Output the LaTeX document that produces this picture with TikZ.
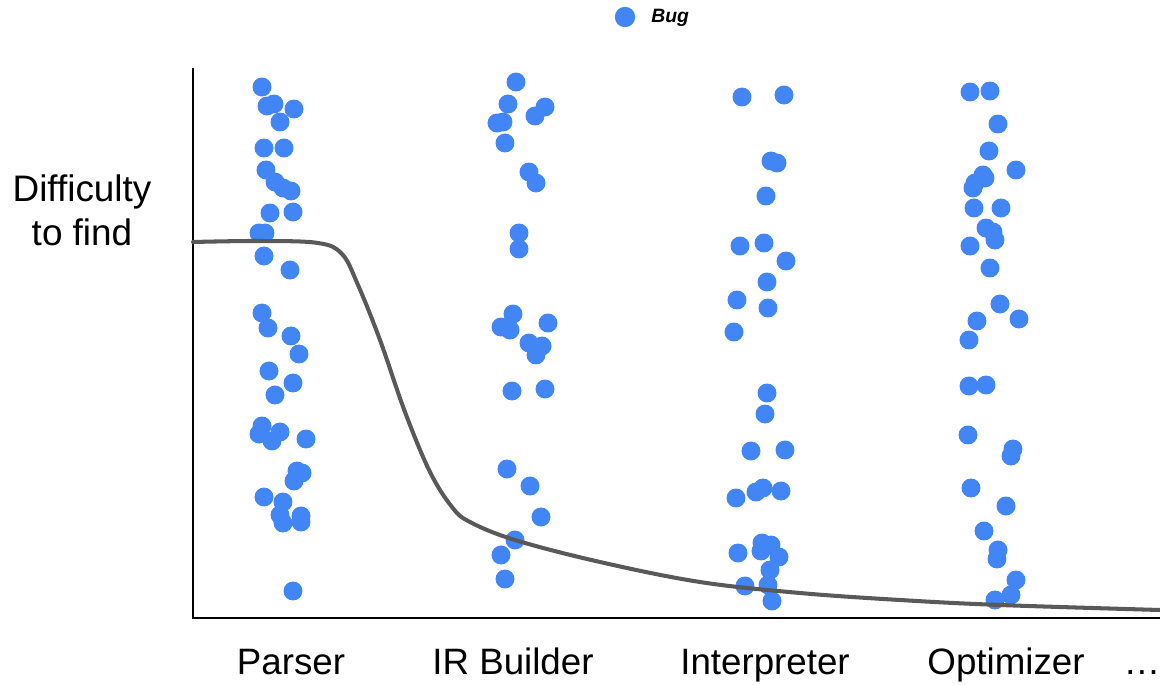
\documentclass[tikz,border=0pt]{standalone}
\usepackage{fontspec}
\setmainfont{Liberation Sans}
\usetikzlibrary{positioning}
\definecolor{bugblue}{HTML}{4285F4}
\definecolor{curvegray}{HTML}{595959}

\begin{document}
\begin{tikzpicture}[x=0.02cm, y=-0.02cm,
    bug/.style={fill=bugblue},
    stage/.style={font=\fontsize{20.9}{24}\selectfont, anchor=base, inner sep=0pt},
    ylabel/.style={font=\fontsize{21}{24}\selectfont, anchor=base, inner sep=0pt}]

\useasboundingbox (0,0) rectangle (1160,685);

% Axes
\coordinate (top) at (193,68);
\coordinate (origin) at (193,618);
\coordinate (end) at (1160,618);
\draw[line width=0.8pt] (top) -- (origin) -- (end);

% Bugs: Parser
\foreach \x/\y in {262/87, 267/106, 274/104, 294/109, 280/122, 264/148, 284/148,
    266/170, 275/182, 283/188, 291/191, 270/213, 293/212, 259/233, 265/233,
    264/256, 290/270, 262/313, 268/328, 291/336, 299/354, 269/371, 293/383,
    275/395, 262/426, 259/434, 272/441, 280/432, 306/439, 297/471, 302/473,
    294/481, 264/497, 283/502, 280/515, 301/516, 283/523, 301/522, 293/591}
  \fill[bug] (\x,\y) circle (5.4pt);

% Bugs: IR Builder
\foreach \x/\y in {516/82, 508/104, 545/107, 535/116, 497/123, 503/122,
    505/143, 529/172, 536/183, 519/233, 519/249, 513/314, 501/327, 510/330,
    548/323, 529/343, 542/346, 536/355, 512/391, 545/389, 507/469, 530/486,
    541/517, 515/540, 501/555, 505/579}
  \fill[bug] (\x,\y) circle (5.4pt);

% Bugs: Interpreter
\foreach \x/\y in {742/97, 784/95, 771/161, 777/163, 766/196, 740/246,
    764/243, 786/261, 767/282, 737/300, 768/308, 734/332, 767/393, 765/414,
    751/451, 785/450, 736/498, 756/492, 763/488, 781/491, 738/553, 762/543,
    771/545, 761/551, 779/557, 770/570, 745/586, 768/585, 772/601}
  \fill[bug] (\x,\y) circle (5.4pt);

% Bugs: Optimizer
\foreach \x/\y in {970/92, 990/91, 998/124, 989/151, 1016/170, 983/175,
    985/178, 975/183, 973/188, 974/208, 1001/208, 986/228, 993/232, 995/240,
    970/246, 990/268, 1000/304, 977/321, 1019/319, 969/340, 969/386,
    986/385, 968/435, 1013/449, 1011/456, 971/488, 1006/506, 984/531,
    998/550, 997/559, 1016/580, 1011/595, 995/600}
  \fill[bug] (\x,\y) circle (5.4pt);

% Difficulty curve
\draw[curvegray, line width=2.3pt, line cap=round]
  plot[smooth, tension=0.6] coordinates {(193,242) (260,241) (318,243)
    (342,254) (358,285) (380,340) (405,412) (430,472) (452,507) (470,522)
    (515,540) (600,562) (700,582) (800,593) (900,600) (1000,605) (1160,610)};

% Axis labels
\node[ylabel] (diff) at (82,202) {Difficulty};
\node[ylabel] (find) at (82,246) {to find};

\node[stage] (parser) at (291,675) {Parser};
\node[stage] (irb) at (513,675) {IR Builder};
\node[stage] (interp) at (765,675) {Interpreter};
\node[stage] (opt) at (1006,675) {Optimizer};
\node[stage] (more) at (1142,675) {…};

% Legend
\fill[bug] (625,17) circle (5.8pt);
\node[anchor=west, inner sep=0pt, font=\fontsize{11}{13}\selectfont\bfseries\itshape]
  (leg) at (651,18) {Bug};

\end{tikzpicture}
\end{document}
